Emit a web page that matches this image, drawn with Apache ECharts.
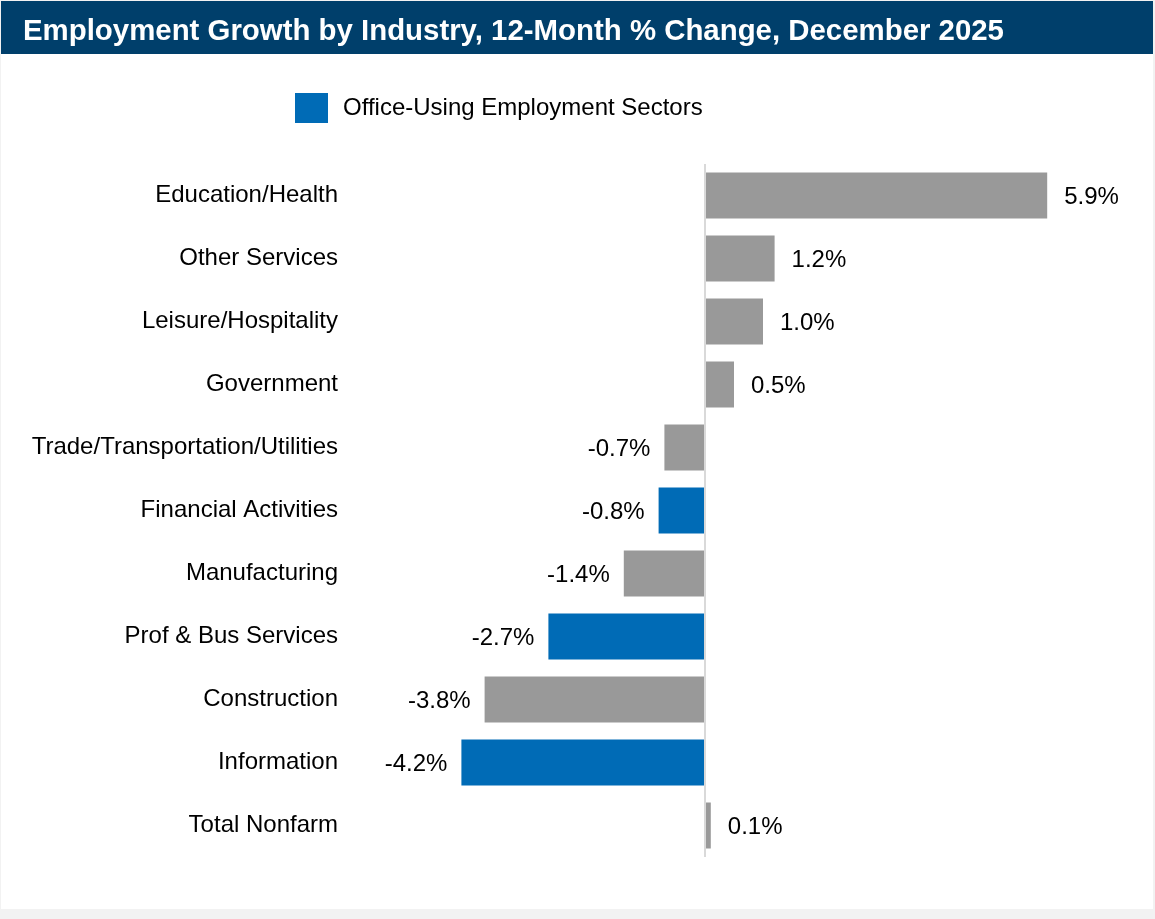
<!DOCTYPE html>
<html>
<head>
<meta charset="utf-8">
<script src="https://cdn.jsdelivr.net/npm/echarts@6/dist/echarts.min.js"></script>
<style>
  html, body { margin: 0; padding: 0; background: #f2f2f2; }
  #chart { width: 1155px; height: 919px; }
</style>
</head>
<body>
<div id="chart"></div>
<script>
// Industries, top to bottom
const categories = [
  'Education/Health', 'Other Services', 'Leisure/Hospitality', 'Government',
  'Trade/Transportation/Utilities', 'Financial Activities', 'Manufacturing',
  'Prof & Bus Services', 'Construction', 'Information', 'Total Nonfarm'
];
// 12-month % change in employment
const changes = [5.9, 1.2, 1.0, 0.5, -0.7, -0.8, -1.4, -2.7, -3.8, -4.2, 0.1];
// Sectors that count as office-using employment
const officeSectors = ['Financial Activities', 'Prof & Bus Services', 'Information'];

const FONT = '"Liberation Sans", Arial, sans-serif';
const BLUE = '#006bb6';
const GREY = '#999999';

function item(v) {
  return {
    value: v,
    label: {
      position: v >= 0 ? 'right' : 'left',
      distance: v >= 0 ? 17 : 14
    }
  };
}

const officeData = categories.map((c, i) => officeSectors.includes(c) ? item(changes[i]) : null);
const otherData = categories.map((c, i) => officeSectors.includes(c) ? null : item(changes[i]));

const labelStyle = {
  show: true,
  fontFamily: FONT,
  fontSize: 24,
  color: '#000',
  offset: [0, 2],
  formatter: p => p.value.toFixed(1) + '%'
};

const chart = echarts.init(document.getElementById('chart'), null, { renderer: 'canvas' });
chart.setOption({
  backgroundColor: '#f2f2f2',
  animation: false,
  graphic: [
    { type: 'rect', z: -10, shape: { x: 1, y: 1, width: 1152, height: 908 }, style: { fill: '#ffffff' } },
    { type: 'rect', z: -9, shape: { x: 1, y: 1, width: 1152, height: 53 }, style: { fill: '#003f6b' } }
  ],
  title: {
    text: 'Employment Growth by Industry, 12-Month % Change, December 2025',
    left: 18,
    top: 12,
    textStyle: { color: '#ffffff', fontFamily: FONT, fontWeight: 'bold', fontSize: 29.4 }
  },
  legend: {
    data: ['Office-Using Employment Sectors'],
    left: 295,
    top: 93,
    padding: 0,
    itemWidth: 33,
    itemHeight: 30,
    icon: 'rect',
    textStyle: { fontFamily: FONT, fontSize: 24, color: '#000', padding: [0, 0, 0, 10] }
  },
  grid: { left: 357, width: 754, top: 164, height: 693, containLabel: false },
  xAxis: {
    type: 'value',
    min: -6,
    max: 7,
    show: false
  },
  yAxis: {
    type: 'category',
    data: categories,
    inverse: true,
    axisLine: { show: false, onZero: false },
    axisTick: { show: false },
    axisLabel: {
      show: true,
      margin: 19,
      fontFamily: FONT,
      fontSize: 24,
      color: '#000',
      padding: [4, 0, 0, 0]
    },
    splitLine: { show: false }
  },
  series: [
    {
      name: 'Office-Using Employment Sectors',
      type: 'bar',
      data: officeData,
      barWidth: '73%',
      barGap: '-100%',
      itemStyle: { color: BLUE },
      label: labelStyle,
      // zero line
      markLine: {
        silent: true,
        symbol: 'none',
        label: { show: false },
        lineStyle: { color: '#d9d9d9', width: 2, type: 'solid' },
        data: [{ xAxis: 0 }]
      }
    },
    {
      name: 'Other',
      type: 'bar',
      data: otherData,
      barWidth: '73%',
      itemStyle: { color: GREY },
      label: labelStyle
    }
  ]
});
</script>
</body>
</html>
